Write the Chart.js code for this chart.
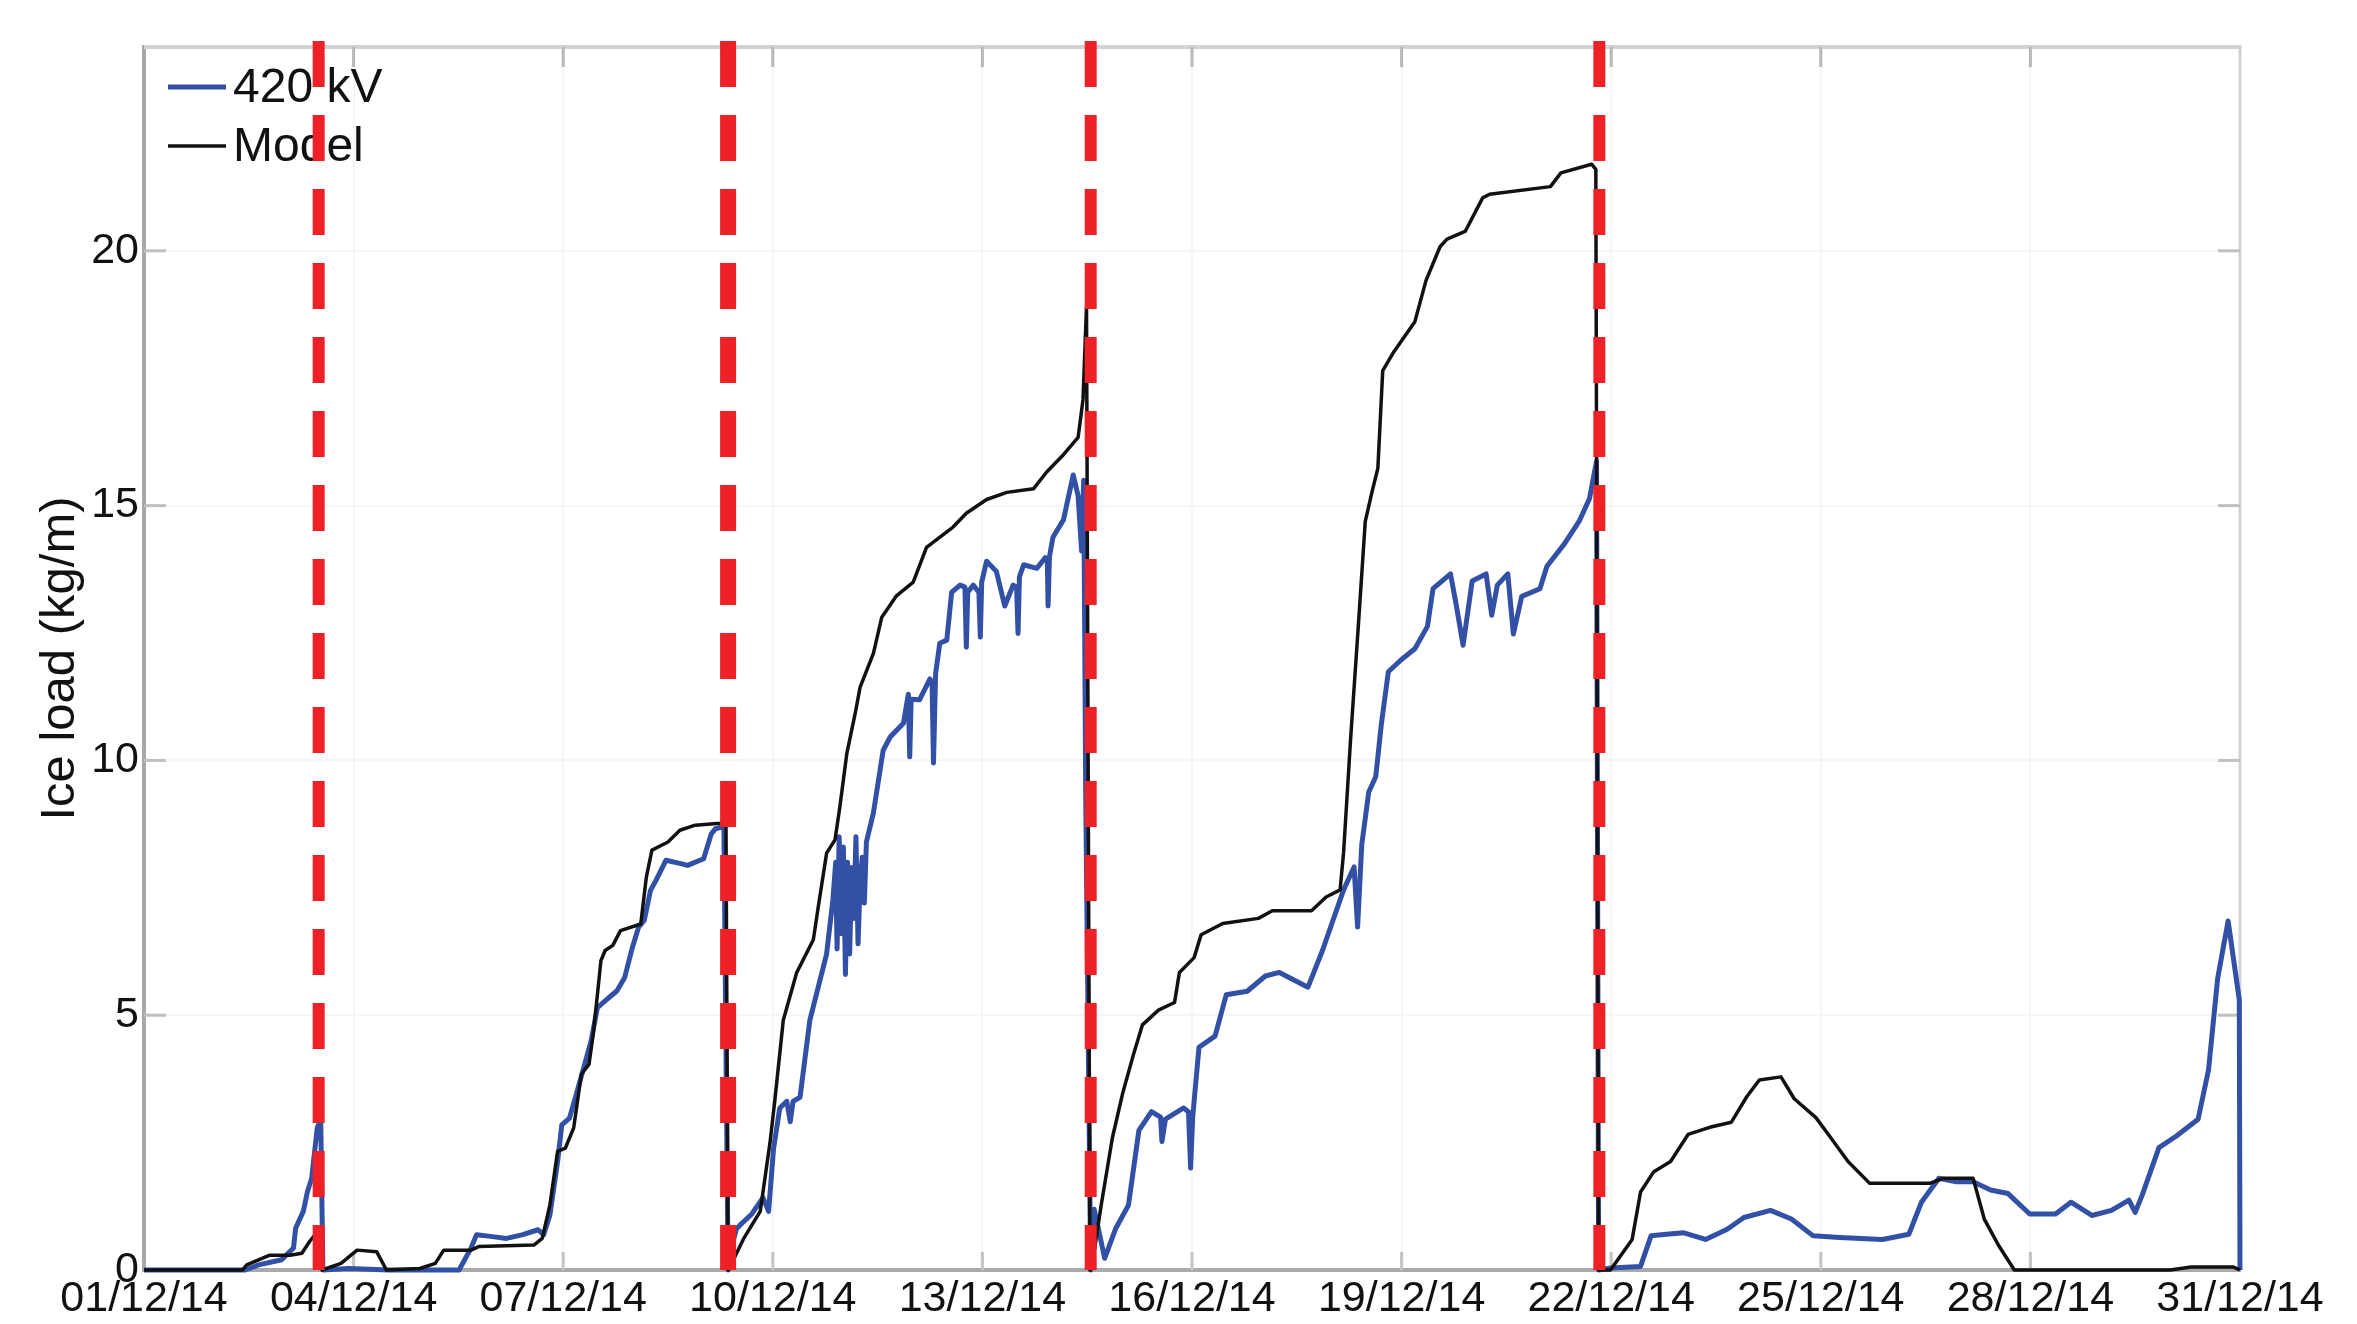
<!DOCTYPE html>
<html>
<head>
<meta charset="utf-8">
<title>Ice load, December 2014</title>
<script src="https://cdn.jsdelivr.net/npm/chart.js@4/dist/chart.umd.min.js"></script>
<style>
  html, body { margin: 0; padding: 0; background: #fff; }
  #wrap { position: relative; width: 2357px; height: 1324px; }
</style>
</head>
<body>
<div id="wrap"><canvas id="chart"></canvas></div>
<script>
// x values are days after 01/12/14 00:00; one label every three days
const dateLabels = ['01/12/14', '04/12/14', '07/12/14', '10/12/14', '13/12/14', '16/12/14',
                    '19/12/14', '22/12/14', '25/12/14', '28/12/14', '31/12/14'];

// measured ice load on the 420 kV line
const kv420Day = [
  0, 1.45, 1.64, 1.97, 2.14, 2.17, 2.28, 2.34, 2.40, 2.48, 2.53, 2.56, 2.93, 3.5, 4.51, 4.68, 4.76, 4.96,
  5.19, 5.41, 5.64, 5.72, 5.81, 5.92, 5.98, 6.09, 6.20, 6.32, 6.40, 6.49, 6.60, 6.77, 6.88, 6.99, 7.08,
  7.16, 7.25, 7.33, 7.47, 7.70, 7.78, 8.01, 8.12, 8.18, 8.30, 8.36,
  8.42, 8.48, 8.53, 8.70, 8.86, 8.94, 9.01, 9.10, 9.20, 9.25, 9.29, 9.39, 9.53, 9.65, 9.77, 9.86,
  9.90, 9.92, 9.95, 9.98, 10.01, 10.04, 10.07, 10.10, 10.13, 10.16, 10.19, 10.22, 10.25, 10.28, 10.31,
  10.34, 10.44, 10.58, 10.68, 10.87, 10.94, 10.96, 10.98, 11.10, 11.25, 11.28, 11.30, 11.33, 11.39, 11.49,
  11.56, 11.68, 11.75, 11.77, 11.79, 11.87, 11.95, 11.97, 11.99,
  12.06, 12.20, 12.32, 12.44, 12.49, 12.51, 12.53, 12.59, 12.78, 12.90, 12.93, 12.94, 12.96, 13.01, 13.16,
  13.30, 13.37, 13.42, 13.45, 13.48, 13.55,
  13.60, 13.75, 13.91, 14.09, 14.24, 14.42, 14.55, 14.57, 14.62, 14.88, 14.95, 14.98, 15.01, 15.10, 15.33,
  15.49, 15.79, 16.05, 16.25, 16.66, 16.87, 17.02, 17.17, 17.32, 17.37, 17.43, 17.53, 17.63, 17.71, 17.81,
  17.99, 18.19, 18.37, 18.45, 18.70, 18.78, 18.88, 19.01, 19.21, 19.29, 19.37, 19.52, 19.60, 19.72, 19.98,
  20.08, 20.33, 20.54, 20.69, 20.79, 20.82,
  20.99, 21.42, 21.57, 21.79, 22.04, 22.35, 22.66, 22.90, 23.28, 23.58, 23.89, 24.27, 24.88, 25.26, 25.44,
  25.69, 25.94, 26.18, 26.43, 26.68, 26.99, 27.36, 27.58, 27.88, 28.16, 28.41, 28.50, 28.60, 28.84, 29.09,
  29.40, 29.55, 29.68, 29.83, 29.99, 30.0
];
const kv420Load = [
  0, 0, 0.10, 0.20, 0.43, 0.82, 1.15, 1.54, 1.80, 2.79, 2.95, 0, 0.03, 0, 0, 0.43, 0.69, 0.66,
  0.62, 0.69, 0.79, 0.69, 1.08, 2.13, 2.85, 2.98, 3.51, 4.10, 4.50, 5.15, 5.28, 5.48, 5.74, 6.33, 6.73,
  6.86, 7.45, 7.65, 8.04, 7.97, 7.94, 8.07, 8.56, 8.66, 8.70, 0,
  0.50, 0.81, 0.88, 1.10, 1.42, 1.15, 2.37, 3.18, 3.31, 2.91, 3.31, 3.39, 4.90, 5.55, 6.20, 7.26,
  8.00, 6.30, 8.50, 6.60, 8.30, 5.80, 8.00, 6.20, 7.90, 6.90, 8.50, 6.40, 7.60, 8.10, 7.20,
  8.40, 8.97, 10.20, 10.46, 10.73, 11.30, 10.07, 11.20, 11.19, 11.60, 11.50, 9.95, 11.70, 12.30, 12.36,
  13.30, 13.44, 13.40, 12.22, 13.30, 13.44, 13.30, 12.42, 13.50,
  13.91, 13.71, 13.03, 13.44, 13.40, 12.49, 13.60, 13.84, 13.77, 13.98, 13.90, 13.03, 14.00, 14.38, 14.72,
  15.60, 15.19, 14.11, 15.50, 9.10, 0,
  1.19, 0.23, 0.82, 1.27, 2.74, 3.11, 3.00, 2.52, 2.96, 3.18, 3.10, 2.00, 3.00, 4.37, 4.59,
  5.40, 5.47, 5.77, 5.84, 5.55, 6.28, 6.87, 7.46, 7.91, 6.73, 8.35, 9.38, 9.68, 10.71, 11.74,
  11.97, 12.19, 12.63, 13.37, 13.66, 13.07, 12.26, 13.52, 13.66, 12.85, 13.44, 13.66, 12.48, 13.22, 13.37,
  13.81, 14.25, 14.69, 15.14, 15.87, 0,
  0.04, 0.07, 0.67, 0.70, 0.73, 0.60, 0.80, 1.03, 1.17, 1.00, 0.67, 0.64, 0.60, 0.70, 1.33,
  1.80, 1.73, 1.73, 1.57, 1.50, 1.10, 1.10, 1.33, 1.07, 1.17, 1.37, 1.13, 1.47, 2.40, 2.63,
  2.96, 3.93, 5.72, 6.85, 5.30, 0
];

// modelled ice load
const modelDay = [
  0, 1.41, 1.47, 1.80, 2.09, 2.26, 2.37, 2.48, 2.55, 2.82, 3.05, 3.33, 3.47, 3.95, 4.17, 4.29, 4.68, 4.79,
  5.58, 5.70, 5.81, 5.92, 6.03, 6.15, 6.26, 6.37, 6.43, 6.49, 6.54, 6.60, 6.71, 6.82, 7.11, 7.19, 7.27,
  7.50, 7.67, 7.89, 8.20, 8.33, 8.36,
  8.39, 8.58, 8.82, 8.96, 9.03, 9.15, 9.34, 9.58, 9.65, 9.77, 9.89, 9.96, 10.06, 10.18, 10.25,
  10.44, 10.56, 10.77, 11.01, 11.20, 11.58, 11.77, 12.06, 12.35, 12.73, 12.92, 13.16, 13.37, 13.44, 13.49,
  13.54,
  13.57, 13.70, 13.86, 14.01, 14.16, 14.29, 14.52, 14.75, 14.82, 15.03, 15.13, 15.44, 15.95, 16.15, 16.71,
  16.92, 17.12, 17.17, 17.27, 17.38, 17.48, 17.58, 17.66, 17.73, 17.89, 18.19, 18.35, 18.55, 18.65, 18.91,
  19.16, 19.26, 20.13, 20.28, 20.72, 20.78, 20.82,
  20.99, 21.30, 21.42, 21.61, 21.85, 22.10, 22.41, 22.72, 22.94, 23.12, 23.43, 23.62, 23.93, 24.14, 24.39,
  24.70, 25.56, 25.75, 26.18, 26.34, 26.55, 26.77, 29.0, 29.3, 29.9, 30.0
];
const modelLoad = [
  0, 0, 0.10, 0.29, 0.29, 0.33, 0.56, 0.75, 0, 0.13, 0.39, 0.36, 0, 0.03, 0.13, 0.39, 0.39, 0.46,
  0.49, 0.62, 1.28, 2.33, 2.39, 2.79, 3.84, 4.04, 4.63, 5.41, 6.07, 6.27, 6.37, 6.66, 6.79, 7.71, 8.24,
  8.40, 8.63, 8.73, 8.76, 8.76, 0,
  0.07, 0.61, 1.15, 2.50, 3.34, 4.90, 5.83, 6.48, 7.12, 8.18, 8.44, 9.09, 10.14, 10.93, 11.44,
  12.10, 12.81, 13.23, 13.50, 14.18, 14.58, 14.85, 15.12, 15.26, 15.33, 15.66, 16.00, 16.34, 17.08, 18.90,
  0,
  0.09, 1.27, 2.59, 3.48, 4.22, 4.81, 5.10, 5.25, 5.84, 6.13, 6.58, 6.80, 6.90, 7.05, 7.05,
  7.32, 7.46, 8.20, 10.42, 12.63, 14.69, 15.29, 15.73, 17.65, 18.02, 18.61, 19.42, 20.08, 20.23, 20.38,
  21.04, 21.11, 21.26, 21.53, 21.70, 21.60, 0,
  0, 0.60, 1.53, 1.93, 2.13, 2.66, 2.80, 2.90, 3.40, 3.73, 3.79, 3.36, 2.99, 2.60, 2.13,
  1.70, 1.70, 1.80, 1.80, 1.00, 0.47, 0, 0, 0.06, 0.06, 0
];

// ice shedding instants, drawn as red dashed markers
const sheddingDay = [2.5, 8.36, 13.55, 20.83];

const Y_MAX = 24;
const toPoints = (xs, ys) => xs.map((d, i) => ({ x: d, y: ys[i] }));

const FONT_TEXT = '"Liberation Sans", Arial, sans-serif';

const sheddingSets = sheddingDay.map((d, i) => ({
  data: [{ x: d, y: Y_MAX + 0.12 }, { x: d, y: 0 }],
  borderColor: '#ee2226',
  borderWidth: i === 1 ? 16 : 12,
  borderDash: [46, 28],
  borderCapStyle: 'butt',
  pointRadius: 0,
  clip: false,
  order: 0
}));

// light top/right frame, inward tick marks and the series key
const framePlugin = {
  id: 'frameAndKey',
  beforeDatasetsDraw(chart) {
    const { ctx, chartArea: a, scales: { x, y } } = chart;
    const seg = (x1, y1, x2, y2) => { ctx.beginPath(); ctx.moveTo(x1, y1); ctx.lineTo(x2, y2); ctx.stroke(); };
    ctx.save();
    ctx.lineCap = 'butt';
    ctx.strokeStyle = '#d2d2d2';
    ctx.lineWidth = 4;
    seg(a.left, a.top, a.right + 1.5, a.top);
    ctx.lineWidth = 3;
    seg(a.right, a.top, a.right, a.bottom);

    ctx.lineWidth = 3;
    x.ticks.forEach(t => {
      const p = x.getPixelForValue(t.value);
      if (p <= a.left + 2 || p >= a.right - 2) return;
      ctx.strokeStyle = '#b8b8b8';
      seg(p, a.top, p, a.top + 20);
      ctx.strokeStyle = '#c4c4c4';
      seg(p, a.bottom, p, a.bottom - 18);
    });
    y.ticks.forEach(t => {
      const p = y.getPixelForValue(t.value);
      if (p >= a.bottom - 2) return;
      ctx.strokeStyle = '#c0c0c0';
      seg(a.left, p, a.left + 22, p);
      seg(a.right, p, a.right - 22, p);
    });

    // series key
    ctx.font = '48px ' + FONT_TEXT;
    ctx.textBaseline = 'middle';
    ctx.textAlign = 'left';
    chart.data.datasets.filter(ds => ds.label).forEach((ds, i) => {
      const ky = a.top + 40 + i * 59;
      ctx.strokeStyle = ds.borderColor;
      ctx.lineWidth = ds.borderWidth;
      seg(a.left + 24, ky, a.left + 82, ky);
      ctx.fillStyle = '#111';
      ctx.fillText(ds.label, a.left + 89, ky + 2);
    });
    ctx.restore();
  }
};

new Chart(document.getElementById('chart'), {
  type: 'line',
  data: {
    datasets: [
      {
        label: '420 kV',
        data: toPoints(kv420Day, kv420Load),
        borderColor: '#3250a6',
        borderWidth: 5,
        borderJoinStyle: 'round',
        pointRadius: 0,
        tension: 0,
        clip: false,
        order: 2
      },
      {
        label: 'Model',
        data: toPoints(modelDay, modelLoad),
        borderColor: '#111111',
        borderWidth: 3.5,
        borderJoinStyle: 'round',
        pointRadius: 0,
        tension: 0,
        clip: false,
        order: 1
      },
      ...sheddingSets
    ]
  },
  options: {
    responsive: true,
    maintainAspectRatio: false,
    animation: false,
    events: [],
    layout: { padding: { left: 0, top: 47, right: 117, bottom: 0 } },
    plugins: { legend: { display: false }, tooltip: { enabled: false } },
    scales: {
      x: {
        type: 'linear',
        min: 0,
        max: 30,
        afterFit: s => { s.height = 54; },
        grid: { color: '#f6f6f6', lineWidth: 2, drawTicks: false },
        border: { color: '#aaaaaa', width: 4 },
        ticks: {
          stepSize: 3,
          autoSkip: false,
          maxRotation: 0,
          padding: 3,
          color: '#111',
          font: { size: 43, family: FONT_TEXT },
          callback: v => dateLabels[Math.round(v / 3)]
        }
      },
      y: {
        min: 0,
        max: Y_MAX,
        afterFit: s => { s.width = 144; },
        grid: { color: '#f6f6f6', lineWidth: 2, drawTicks: false },
        border: { color: '#a8a8a8', width: 4 },
        title: {
          display: true,
          text: 'Ice load (kg/m)',
          color: '#111',
          font: { size: 49, family: FONT_TEXT },
          padding: { top: 31, bottom: 0 }
        },
        ticks: {
          stepSize: 5,
          includeBounds: false,
          padding: 5,
          color: '#111',
          font: { size: 43, family: FONT_TEXT }
        }
      }
    }
  },
  plugins: [framePlugin]
});
</script>
</body>
</html>
